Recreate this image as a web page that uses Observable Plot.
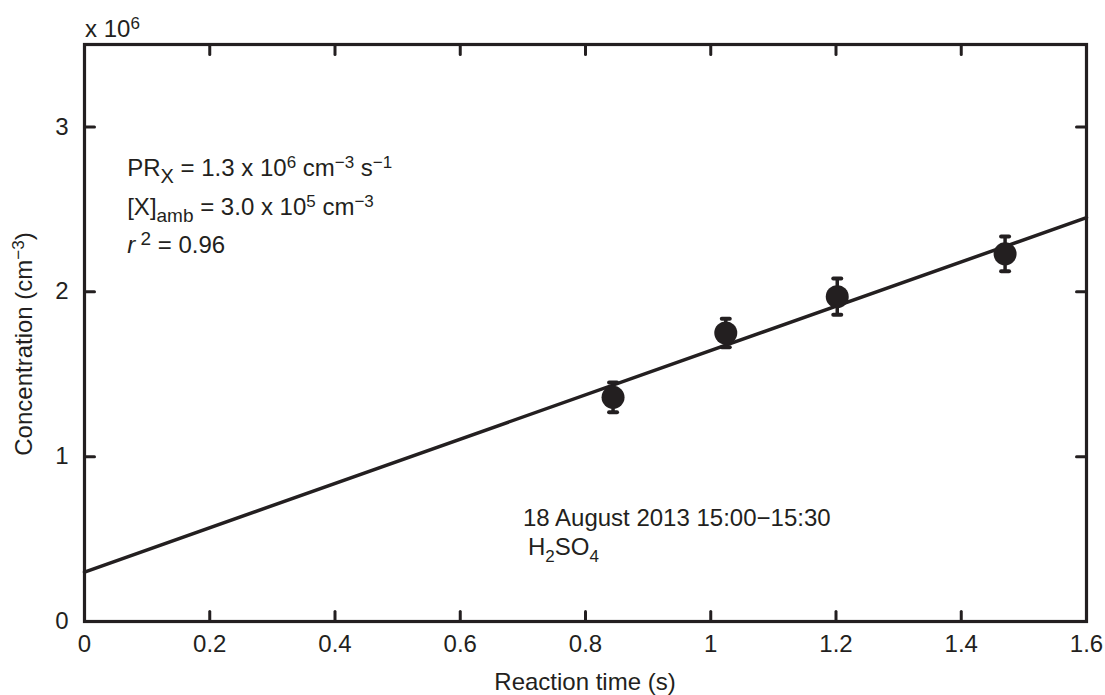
<!DOCTYPE html>
<html>
<head>
<meta charset="utf-8">
<script src="https://cdn.jsdelivr.net/npm/d3@7"></script>
<script src="https://cdn.jsdelivr.net/npm/@observablehq/plot@0.6"></script>
<style>
  html, body { margin: 0; padding: 0; background: #fff; }
  #chart { width: 1105px; height: 695px; }
</style>
</head>
<body>
<div id="chart"></div>
<script>
// ---- data ----
const xTicks = [0, 0.2, 0.4, 0.6, 0.8, 1.0, 1.2, 1.4, 1.6];
const xTickLabels = ["0", "0.2", "0.4", "0.6", "0.8", "1", "1.2", "1.4", "1.6"];
const yTicks = [0, 1, 2, 3];
const yTickLabels = ["0", "1", "2", "3"];
const reactionTime = [0.844, 1.024, 1.202, 1.470];
const concentration = [1.36, 1.75, 1.97, 2.23];   // x 10^6 cm^-3
const errorHalf = [0.09, 0.087, 0.11, 0.105];
const fitX = [0, 1.6];
const fitY = [0.30, 2.45];

const ink = "#231f20";
const FS = 24;
const points = reactionTime.map((x, i) => ({x, y: concentration[i], lo: concentration[i] - errorHalf[i], hi: concentration[i] + errorHalf[i]}));
const fit = fitX.map((x, i) => ({x, y: fitY[i]}));

const lineShape = {draw(context, l) { context.moveTo(0, 0); context.lineTo(0, -l); }};

const plot = Plot.plot({
  width: 1105,
  height: 695,
  marginLeft: 84,
  marginRight: 19,
  marginTop: 44,
  marginBottom: 74,
  style: {fontFamily: "'Liberation Sans', Arial, sans-serif", fontSize: FS + "px", color: ink, background: "#fff"},
  x: {domain: [0, 1.6]},
  y: {domain: [0, 3.5]},
  marks: [
    Plot.axisX({ticks: xTicks, tickSize: 0, tickPadding: 13, tickFormat: (d) => xTickLabels[xTicks.indexOf(d)], label: null, fill: ink, fontSize: FS}),
    Plot.axisY({ticks: yTicks, tickSize: 0, tickPadding: 16, tickFormat: (d) => yTickLabels[yTicks.indexOf(d)], label: null, fill: ink, fontSize: FS}),
    // inward ticks on all four sides
    Plot.vector(xTicks.slice(1, -1), {x: d => d, frameAnchor: "bottom", rotate: 0, length: 10, anchor: "start", shape: lineShape, stroke: ink, strokeWidth: 3}),
    Plot.vector(xTicks.slice(1, -1), {x: d => d, frameAnchor: "top", rotate: 180, length: 10, anchor: "start", shape: lineShape, stroke: ink, strokeWidth: 3}),
    Plot.vector(yTicks.slice(1), {y: d => d, frameAnchor: "left", rotate: 90, length: 10, anchor: "start", shape: lineShape, stroke: ink, strokeWidth: 3}),
    Plot.vector(yTicks.slice(1), {y: d => d, frameAnchor: "right", rotate: -90, length: 10, anchor: "start", shape: lineShape, stroke: ink, strokeWidth: 3}),
    Plot.frame({stroke: ink, strokeWidth: 3.2}),
    Plot.line(fit, {x: "x", y: "y", stroke: ink, strokeWidth: 3.5}),
    Plot.ruleX(points, {x: "x", y1: "lo", y2: "hi", stroke: ink, strokeWidth: 3.5}),
    Plot.vector(points, {x: "x", y: "hi", rotate: 90, length: 8, anchor: "middle", shape: lineShape, stroke: ink, strokeWidth: 4}),
    Plot.vector(points, {x: "x", y: "lo", rotate: 90, length: 8, anchor: "middle", shape: lineShape, stroke: ink, strokeWidth: 4}),
    Plot.dot(points, {x: "x", y: "y", r: 11.5, fill: ink, stroke: "none"})
  ]
});
document.getElementById("chart").appendChild(plot);

// ---- rich text annotations (sub/superscripts) ----
const sx = plot.scale("x").apply, sy = plot.scale("y").apply;
const svg = d3.select(plot);
function rich(g, segs) {
  let off = 0;
  segs.forEach(s => {
    const target = s.sup ? -8 : s.sub ? 7 : 0;
    const t = g.append("tspan").text(s.t).attr("dy", target - off);
    off = target;
    if (s.sup || s.sub) t.attr("font-size", s.size || 17);
    if (s.italic) t.attr("font-style", "italic");
  });
}
function addText(px, py, segs, opts = {}) {
  const g = svg.append("text")
    .attr("x", px).attr("y", py)
    .attr("fill", ink)
    .attr("font-family", "'Liberation Sans', Arial, sans-serif")
    .attr("font-size", opts.size || FS)
    .attr("text-anchor", opts.anchor || "start");
  if (opts.rotate) g.attr("transform", `rotate(${opts.rotate} ${px} ${py})`);
  rich(g, segs);
  return g;
}

const notes = [
  {x: 0.069, y: 2.70, segs: [{t: "PR"}, {t: "X", sub: true, size: 20}, {t: " = 1.3 x 10"}, {t: "6", sup: true}, {t: " cm"}, {t: "−3", sup: true}, {t: " s"}, {t: "−1", sup: true}]},
  {x: 0.069, y: 2.46, segs: [{t: "[X]"}, {t: "amb", sub: true, size: 19}, {t: " = 3.0 x 10"}, {t: "5", sup: true}, {t: " cm"}, {t: "−3", sup: true}]},
  {x: 0.069, y: 2.23, segs: [{t: "r", italic: true}, {t: " 2", sup: true, size: 19}, {t: " = 0.96"}]},
  {x: 0.701, y: 0.576, segs: [{t: "18 August 2013 15:00−15:30"}]},
  {x: 0.709, y: 0.40, segs: [{t: "H"}, {t: "2", sub: true}, {t: "SO"}, {t: "4", sub: true}]}
];
notes.forEach(a => addText(sx(a.x), sy(a.y), a.segs));

// axis titles and exponent marker
addText(85, 37, [{t: "x 10"}, {t: "6", sup: true}]);
addText(585, 690, [{t: "Reaction time (s)"}], {anchor: "middle"});
addText(32, 344, [{t: "Concentration (cm"}, {t: "−3", sup: true}, {t: ")"}], {anchor: "middle", rotate: -90});
</script>
</body>
</html>
